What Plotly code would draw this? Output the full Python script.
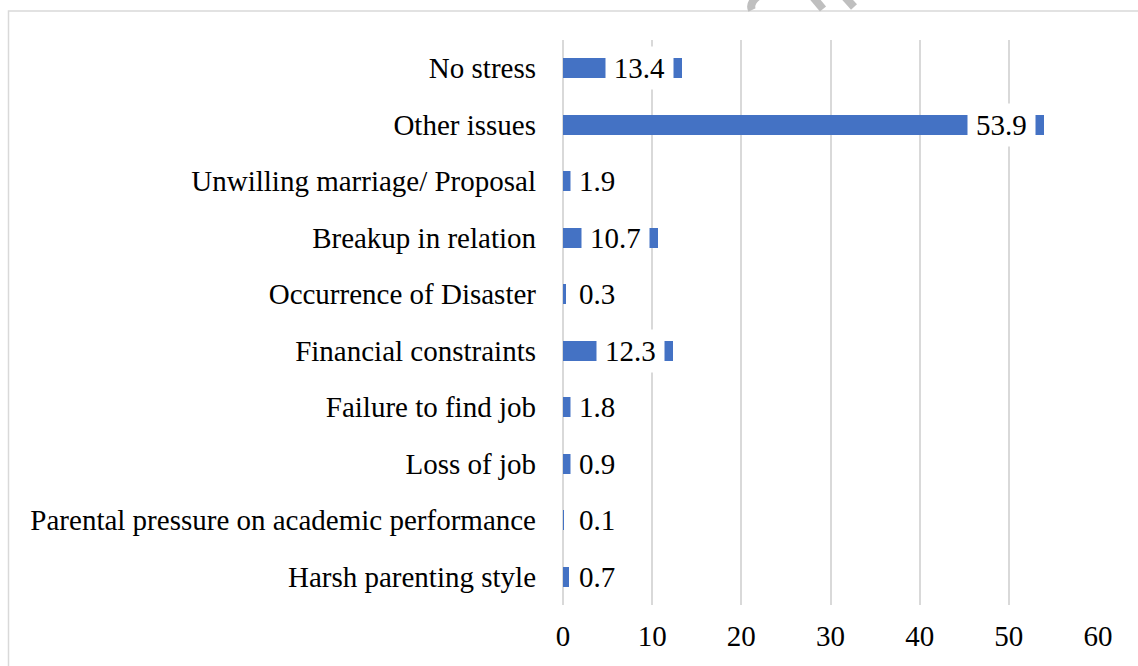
import plotly.graph_objects as go

categories = [
    "No stress",
    "Other issues",
    "Unwilling marriage/ Proposal",
    "Breakup in relation",
    "Occurrence of Disaster",
    "Financial constraints",
    "Failure to find job",
    "Loss of job",
    "Parental pressure on academic performance",
    "Harsh parenting style",
]
values = [13.4, 53.9, 1.9, 10.7, 0.3, 12.3, 1.8, 0.9, 0.1, 0.7]
x_ticks = [0, 10, 20, 30, 40, 50, 60]

FONT = "Liberation Serif, Times New Roman, serif"
FS = 29
BAR = "#4472C4"
GRID = "#D9D9D9"

fig = go.Figure()
fig.add_trace(go.Bar(
    y=categories, x=values, orientation="h",
    marker=dict(color=BAR, line=dict(width=0)),
    width=0.354, hoverinfo="skip",
))

annotations = []
for cat, v in zip(categories, values):
    txt = f"{v}"
    ndig = sum(c.isdigit() for c in txt)
    w = FS * (0.5 * ndig + 0.25) + 6
    if v >= 9:
        a = dict(x=v, xanchor="right", xshift=-8)
    else:
        a = dict(x=0, xanchor="left", xshift=7)
    a.update(dict(
        y=cat, yanchor="middle", xref="x", yref="y", text=txt, showarrow=False,
        font=dict(family=FONT, size=FS, color="black"),
        bgcolor="white", borderpad=5, width=w, align="center",
    ))
    annotations.append(a)

L, R, T, B = 563, 40, 40, 61
PW, PH = 1138 - L - R, 666 - T - B

def px(xp):
    return (xp - L) / PW

def py(yp):
    return (666 - B - yp) / PH

shapes = [
    dict(type="rect", xref="paper", yref="paper",
         x0=px(8.5), x1=px(1150), y0=py(11), y1=py(700),
         line=dict(color=GRID, width=1.5), fillcolor="rgba(0,0,0,0)", layer="below"),
    dict(type="path", xref="paper", yref="paper",
         path=f"M {px(757)} {py(-3)} Q {px(749)} {py(4)} {px(752)} {py(10)}",
         line=dict(color="#BFBFBF", width=8)),
    dict(type="line", xref="paper", yref="paper",
         x0=px(813), y0=py(-3), x1=px(823), y1=py(9),
         line=dict(color="#BFBFBF", width=8)),
    dict(type="line", xref="paper", yref="paper",
         x0=px(845), y0=py(-3), x1=px(854), y1=py(7),
         line=dict(color="#BFBFBF", width=8)),
]

fig.update_layout(
    width=1138, height=666,
    margin=dict(l=L, r=R, t=T, b=B),
    paper_bgcolor="white", plot_bgcolor="white",
    showlegend=False, bargap=0,
    font=dict(family=FONT, size=FS, color="black"),
    annotations=annotations, shapes=shapes,
    xaxis=dict(range=[0, 60], tickvals=x_ticks, showgrid=True, gridcolor=GRID,
               gridwidth=2, zeroline=True, zerolinecolor=GRID, zerolinewidth=2,
               showline=False, ticks="", ticklabelstandoff=11,
               tickfont=dict(family=FONT, size=FS, color="black"), fixedrange=True),
    yaxis=dict(autorange="reversed", showgrid=False, zeroline=False, showline=False,
               ticks="", ticklabelstandoff=26,
               tickfont=dict(family=FONT, size=FS, color="black"), fixedrange=True),
)

fig.write_html("out.html", config={"displayModeBar": False},
               post_script="document.body.style.margin='0';document.body.style.overflow='hidden';")
